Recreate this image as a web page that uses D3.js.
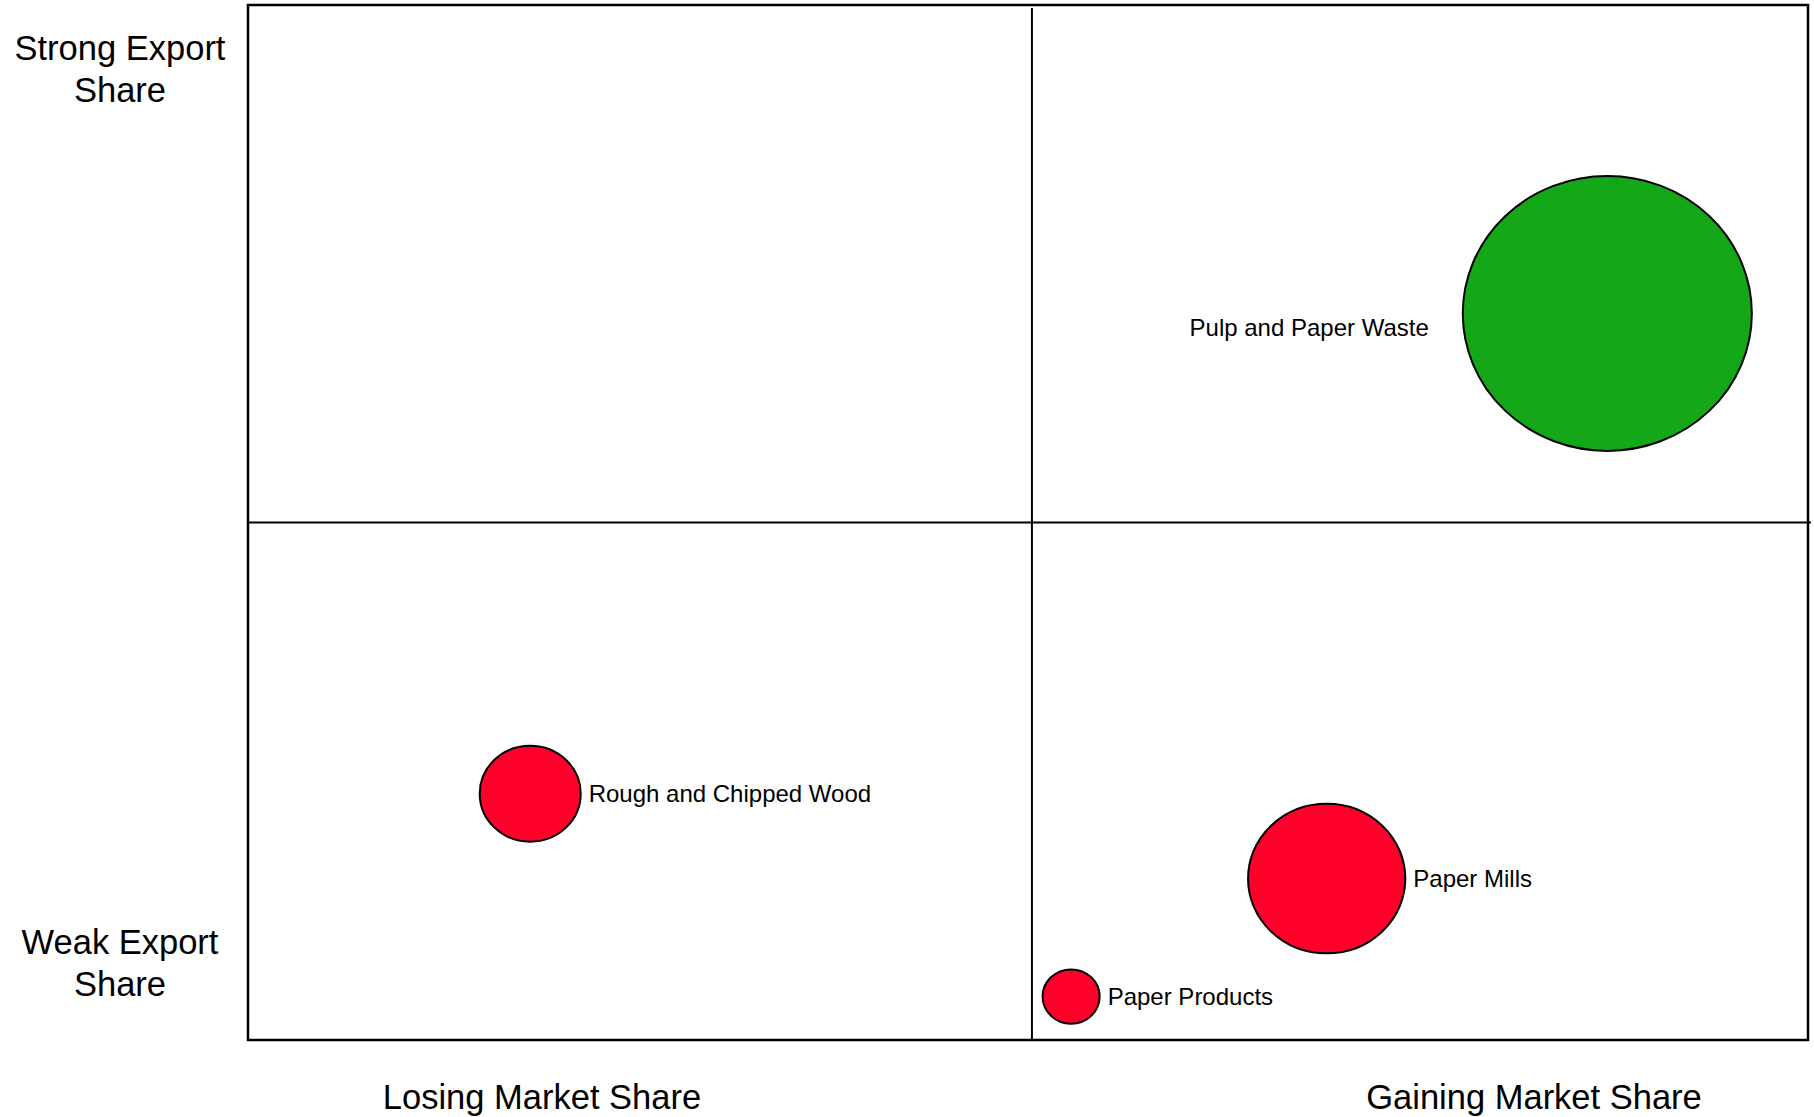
<!DOCTYPE html>
<html>
<head>
<meta charset="utf-8">
<script src="https://cdn.jsdelivr.net/npm/d3@7"></script>
<style>
  html, body { margin: 0; padding: 0; background: #ffffff; }
  svg { display: block; font-family: Arial, "Liberation Sans", sans-serif; }
</style>
</head>
<body>
<svg id="chart" width="1814" height="1117"></svg>
<script>
// Industry segments plotted by change in market share (x) and export share (y)
const industries = ["Pulp and Paper Waste", "Rough and Chipped Wood", "Paper Mills", "Paper Products"];
const marketShareChange = [36.7, -32.0, 18.8, 2.5];
const exportShare = [20.2, -26.2, -34.4, -45.8];
const exportVolume = [100, 12.2, 29.6, 3.9];
const performance = ["strong", "weak", "weak", "weak"];
const labelSide = ["left", "right", "right", "right"];

// Quadrant captions
const yCaptions = [["Strong Export", "Share"], ["Weak Export", "Share"]];
const xCaptions = ["Losing Market Share", "Gaining Market Share"];

const colors = { strong: "#14a819", weak: "#fe0029" };

const svg = d3.select("#chart");
const plot = { left: 248, top: 5, right: 1808, bottom: 1040 };

const x = d3.scaleLinear().domain([-50, 49.5]).range([plot.left, plot.right]);
const y = d3.scaleLinear().domain([-50, 50]).range([plot.bottom, plot.top]);
const r = d3.scaleSqrt().domain([0, 100]).range([0, 141]);
// bubbles are drawn slightly wider than tall
const stretchX = 1.025, stretchY = 0.975;

const data = industries.map((name, i) => ({
  name,
  mx: marketShareChange[i],
  ex: exportShare[i],
  vol: exportVolume[i],
  perf: performance[i],
  side: labelSide[i]
}));

// Outer frame
svg.append("rect")
  .attr("x", plot.left).attr("y", plot.top)
  .attr("width", plot.right - plot.left).attr("height", plot.bottom - plot.top)
  .attr("fill", "none").attr("stroke", "#000").attr("stroke-width", 2.5);

// Quadrant dividers
svg.append("line")
  .attr("x1", x(0)).attr("x2", x(0))
  .attr("y1", plot.top + 3).attr("y2", plot.bottom)
  .attr("stroke", "#000").attr("stroke-width", 2);
svg.append("line")
  .attr("x1", plot.left).attr("x2", plot.right + 3)
  .attr("y1", y(0)).attr("y2", y(0))
  .attr("stroke", "#000").attr("stroke-width", 2.2);

// Bubbles
svg.append("g").selectAll("ellipse")
  .data(data)
  .join("ellipse")
  .attr("cx", d => x(d.mx))
  .attr("cy", d => y(d.ex))
  .attr("rx", d => r(d.vol) * stretchX)
  .attr("ry", d => r(d.vol) * stretchY)
  .attr("fill", d => colors[d.perf])
  .attr("stroke", "#000")
  .attr("stroke-width", 2);

// Bubble labels
svg.append("g").selectAll("text")
  .data(data)
  .join("text")
  .attr("x", d => d.side === "left"
      ? x(d.mx) - r(d.vol) * stretchX - 34
      : x(d.mx) + r(d.vol) * stretchX + 8)
  .attr("y", d => y(d.ex) + (d.side === "left" ? 23 : 8.5))
  .attr("text-anchor", d => d.side === "left" ? "end" : "start")
  .attr("font-size", "24px")
  .attr("fill", "#000")
  .text(d => d.name);

// Vertical captions (left side)
const yCapPos = [60, 954];
yCaptions.forEach((lines, i) => {
  const t = svg.append("text")
    .attr("text-anchor", "middle")
    .attr("font-size", "34.5px")
    .attr("fill", "#000");
  lines.forEach((line, j) => {
    t.append("tspan")
      .attr("x", 120)
      .attr("y", yCapPos[i] + j * 42)
      .text(line);
  });
});

// Horizontal captions (below the frame)
const xCapPos = [542, 1534];
xCaptions.forEach((label, i) => {
  svg.append("text")
    .attr("x", xCapPos[i])
    .attr("y", 1109)
    .attr("text-anchor", "middle")
    .attr("font-size", "34.5px")
    .attr("fill", "#000")
    .text(label);
});
</script>
</body>
</html>
